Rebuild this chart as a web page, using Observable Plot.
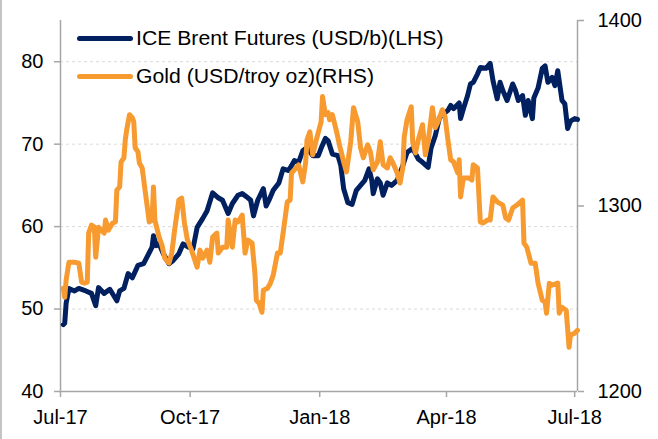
<!DOCTYPE html>
<html>
<head>
<meta charset="utf-8">
<script src="https://cdn.jsdelivr.net/npm/d3@7"></script>
<script src="https://cdn.jsdelivr.net/npm/@observablehq/plot@0.6"></script>
<style>
  html, body { margin: 0; padding: 0; background: #fff; overflow: hidden; }
  #wrap { position: relative; width: 658px; height: 439px; font-family: "Liberation Sans", Arial, sans-serif; }
  #edge { position: absolute; left: 0; top: 0; width: 2px; height: 439px; background: #c4c4c4; }
  .leg { position: absolute; left: 77px; height: 26px; display: flex; align-items: center; font-size: 20px; color: #000; white-space: nowrap; }
  .sw { width: 56px; height: 5px; border-radius: 3px; margin-right: 3px; }
  .leg span.t { display: inline-block; transform: scaleX(1.06); transform-origin: left center; }
</style>
</head>
<body>
<div id="wrap"><div id="edge"></div></div>
<script>
// ---- Data ----
const seriesNames = ["ICE Brent Futures (USD/b)(LHS)", "Gold (USD/troy oz)(RHS)"];
const seriesColors = ["#002060", "#f79a30"];

const brentDates = ["2017-07-03","2017-07-04","2017-07-05","2017-07-07","2017-07-11","2017-07-14","2017-07-19","2017-07-23","2017-07-26","2017-07-28",
"2017-08-01","2017-08-05","2017-08-10","2017-08-12","2017-08-15","2017-08-18","2017-08-21","2017-08-25","2017-08-29","2017-09-01",
"2017-09-04","2017-09-05","2017-09-07","2017-09-09","2017-09-12","2017-09-16","2017-09-19","2017-09-23","2017-09-26","2017-09-30",
"2017-10-03","2017-10-06","2017-10-10","2017-10-13","2017-10-17","2017-10-21","2017-10-24","2017-10-28","2017-10-31","2017-11-04",
"2017-11-07","2017-11-11","2017-11-13","2017-11-15","2017-11-18","2017-11-22","2017-11-24","2017-11-26","2017-11-29","2017-12-03",
"2017-12-06","2017-12-10","2017-12-14","2017-12-17","2017-12-20","2017-12-23","2017-12-27","2017-12-31","2018-01-02","2018-01-05",
"2018-01-07","2018-01-10","2018-01-14","2018-01-16","2018-01-18","2018-01-21","2018-01-24","2018-01-27","2018-01-30","2018-02-02",
"2018-02-05","2018-02-07","2018-02-08","2018-02-11","2018-02-13","2018-02-15","2018-02-18","2018-02-21","2018-02-25","2018-03-01",
"2018-03-04","2018-03-08","2018-03-12","2018-03-15","2018-03-19","2018-03-21","2018-03-24","2018-03-27","2018-03-30","2018-04-02",
"2018-04-04","2018-04-06","2018-04-10","2018-04-11","2018-04-13","2018-04-16","2018-04-18","2018-04-20","2018-04-23","2018-04-25",
"2018-04-29","2018-05-02","2018-05-04","2018-05-07","2018-05-09","2018-05-11","2018-05-14","2018-05-18","2018-05-20","2018-05-22",
"2018-05-25","2018-05-27","2018-05-29","2018-06-01","2018-06-02","2018-06-05","2018-06-08","2018-06-10","2018-06-12","2018-06-15",
"2018-06-17","2018-06-19","2018-06-22","2018-06-24","2018-06-26","2018-06-28","2018-07-01","2018-07-03"];
const brentValues = [48.1,48.3,50.7,52.5,52.2,52.5,52.2,51.9,50.4,52.6,
51.9,52.4,51.0,52.2,52.5,54.3,53.8,55.3,55.5,56.5,
57.5,58.9,57.7,57.9,56.7,55.5,55.9,56.7,57.9,57.5,
57.3,59.9,61.0,61.9,64.1,63.5,63.2,61.6,62.8,63.8,
64.0,63.5,63.2,61.3,63.2,64.6,62.5,63.2,64.4,65.3,
67.0,66.8,68.0,67.8,69.2,69.6,68.6,68.6,69.5,70.7,
70.4,68.8,68.6,67.4,64.6,62.9,62.7,64.4,65.0,65.6,
67.0,65.6,64.0,65.8,65.3,63.8,65.3,65.0,65.6,67.4,
69.0,69.5,68.2,67.8,67.2,69.5,71.0,73.2,73.7,74.1,
74.7,74.3,75.0,73.1,74.3,75.9,77.3,77.5,78.5,79.3,
79.2,79.8,77.7,75.5,77.5,76.5,75.3,77.3,76.5,75.3,
75.9,73.5,75.3,73.1,75.6,76.8,79.2,79.5,77.5,78.1,
77.1,78.9,75.3,74.9,71.9,72.8,73.1,73.0];

const goldDates = ["2017-07-03","2017-07-04","2017-07-05","2017-07-07","2017-07-11","2017-07-14","2017-07-16","2017-07-18","2017-07-20","2017-07-21",
"2017-07-23","2017-07-25","2017-07-26","2017-07-28","2017-08-01","2017-08-02","2017-08-04","2017-08-07","2017-08-09","2017-08-10",
"2017-08-12","2017-08-13","2017-08-15","2017-08-16","2017-08-17","2017-08-19","2017-08-21","2017-08-22","2017-08-23","2017-08-25",
"2017-08-26","2017-08-28","2017-08-30","2017-09-02","2017-09-04","2017-09-05","2017-09-06","2017-09-09","2017-09-11","2017-09-13",
"2017-09-16","2017-09-18","2017-09-20","2017-09-23","2017-09-25","2017-09-27","2017-09-29","2017-10-02","2017-10-06","2017-10-08",
"2017-10-10","2017-10-13","2017-10-15","2017-10-17","2017-10-20","2017-10-21","2017-10-24","2017-10-27","2017-10-28","2017-10-31",
"2017-11-02","2017-11-04","2017-11-07","2017-11-09","2017-11-11","2017-11-14","2017-11-16","2017-11-17","2017-11-19","2017-11-21",
"2017-11-22","2017-11-25","2017-11-27","2017-11-29","2017-12-02","2017-12-04","2017-12-06","2017-12-09","2017-12-11","2017-12-12",
"2017-12-14","2017-12-17","2017-12-20","2017-12-22","2017-12-23","2017-12-25","2017-12-27","2017-12-30","2018-01-02","2018-01-03",
"2018-01-05","2018-01-07","2018-01-08","2018-01-10","2018-01-13","2018-01-15","2018-01-18","2018-01-20","2018-01-23","2018-01-25",
"2018-01-28","2018-01-30","2018-02-01","2018-02-04","2018-02-06","2018-02-08","2018-02-11","2018-02-13","2018-02-15","2018-02-18",
"2018-02-20","2018-02-22","2018-02-25","2018-02-27","2018-03-01","2018-03-02","2018-03-04","2018-03-07","2018-03-08","2018-03-10",
"2018-03-12","2018-03-15","2018-03-17","2018-03-19","2018-03-22","2018-03-24","2018-03-26","2018-03-29","2018-03-31","2018-04-02",
"2018-04-04","2018-04-06","2018-04-09","2018-04-10","2018-04-11","2018-04-13","2018-04-17","2018-04-19","2018-04-20","2018-04-23",
"2018-04-25","2018-04-27","2018-04-30","2018-05-02","2018-05-04","2018-05-07","2018-05-11","2018-05-13","2018-05-15","2018-05-18",
"2018-05-21","2018-05-25","2018-05-26","2018-05-28","2018-05-31","2018-06-03","2018-06-05","2018-06-08","2018-06-10","2018-06-11",
"2018-06-13","2018-06-15","2018-06-19","2018-06-20","2018-06-22","2018-06-25","2018-06-27","2018-06-28","2018-07-01","2018-07-03"];
const goldValues = [1255.7,1250.8,1260.0,1269.7,1269.7,1269.2,1258.9,1258.4,1258.9,1285.4,
1289.7,1288.6,1272.4,1288.6,1285.4,1292.4,1287.0,1290.8,1291.4,1308.6,
1310.3,1323.8,1325.9,1335.7,1341.1,1349.2,1347.6,1345.4,1331.4,1329.2,
1323.2,1320.5,1308.6,1291.4,1292.4,1310.3,1292.4,1283.2,1278.9,1271.9,
1269.2,1274.6,1287.0,1303.2,1304.3,1290.8,1282.0,1276.2,1267.0,1276.2,
1271.9,1276.2,1269.7,1283.2,1285.4,1274.6,1277.8,1277.8,1292.4,1277.8,
1292.4,1291.4,1295.1,1274.6,1281.6,1280.0,1263.8,1249.2,1247.6,1242.7,
1254.6,1255.7,1258.4,1262.7,1274.6,1274.6,1285.4,1302.2,1303.2,1317.8,
1319.5,1322.2,1313.0,1323.2,1335.7,1340.0,1327.6,1336.8,1345.4,1359.0,
1349.2,1350.3,1346.5,1349.2,1340.0,1333.0,1323.8,1318.4,1334.6,1353.0,
1345.4,1331.4,1326.0,1333.0,1329.2,1319.5,1323.8,1334.6,1322.2,1320.5,
1326.0,1323.2,1317.8,1312.4,1320.5,1337.3,1346.5,1353.5,1334.6,1328.6,
1335.7,1343.8,1327.6,1334.6,1353.0,1342.2,1345.4,1351.9,1348.0,1335.7,
1324.9,1323.8,1317.8,1324.9,1304.9,1315.1,1315.1,1314.0,1322.2,1320.5,
1291.4,1290.8,1292.4,1292.4,1304.9,1302.2,1300.5,1293.5,1292.4,1298.9,
1300.5,1303.2,1280.0,1277.8,1269.2,1269.2,1258.4,1249.2,1248.1,1242.2,
1258.4,1257.3,1258.4,1242.2,1245.4,1243.8,1223.8,1230.3,1231.4,1233.0];

const xTickDates = ["2017-07-01","2017-10-01","2018-01-01","2018-04-01","2018-07-01"];
const leftTicks = [40, 50, 60, 70, 80];
const rightTicks = [1200, 1300, 1400];
const leftDomain = [40, 85];
const rightDomain = [1200, 1400];
const xDomain = ["2017-07-01", "2018-07-03"];

// ---- Build ----
const parse = d3.utcParse("%Y-%m-%d");
const brent = brentDates.map((d, i) => ({date: parse(d), value: brentValues[i]}));
const gold = goldDates.map((d, i) => ({date: parse(d), value: goldValues[i]}));
// map right-axis values onto the left-axis scale
const rightToLeft = d3.scaleLinear().domain(rightDomain).range(leftDomain);

const axisColor = "#a6a6a6";
const chart = Plot.plot({
  width: 658,
  height: 439,
  marginLeft: 60,
  marginRight: 81,
  marginTop: 20,
  marginBottom: 48,
  x: {type: "utc", domain: xDomain.map(parse)},
  y: {domain: leftDomain},
  style: {fontFamily: "'Liberation Sans', Arial, sans-serif", fontSize: "20px", color: "#000", background: "transparent", overflow: "visible"},
  marks: [
    Plot.gridY(leftTicks.filter(d => d > leftDomain[0]), {stroke: "#d9d9d9", strokeOpacity: 1, strokeWidth: 1, strokeDasharray: "3,3"}),
    Plot.ruleY([leftDomain[0]], {stroke: axisColor, strokeWidth: 1.5}),
    Plot.ruleX([parse(xDomain[0])], {stroke: axisColor, strokeWidth: 1.5}),
    Plot.ruleX([parse(xDomain[1])], {stroke: axisColor, strokeWidth: 1.5}),
    Plot.axisY(leftTicks, {anchor: "left", tickSize: 6, tickPadding: 11, stroke: axisColor, strokeWidth: 1.5, label: null, tickFormat: d => String(d)}),
    Plot.axisY(rightTicks.map(v => rightToLeft(v)), {anchor: "right", tickSize: 6, tickPadding: 14, stroke: axisColor, strokeWidth: 1.5, label: null,
      tickFormat: d => String(Math.round(rightToLeft.invert(d)))}),
    Plot.axisX(xTickDates.map(parse), {anchor: "bottom", tickSize: 6, tickPadding: 12, stroke: axisColor, strokeWidth: 1.5, label: null,
      tickFormat: d3.utcFormat("%b-%y")}),
    Plot.line(brent, {x: "date", y: "value", stroke: seriesColors[0], strokeWidth: 5, strokeLinejoin: "round", strokeLinecap: "round"}),
    Plot.line(gold, {x: "date", y: d => rightToLeft(d.value), stroke: seriesColors[1], strokeWidth: 5, strokeLinejoin: "round", strokeLinecap: "round"})
  ]
});

const wrap = document.getElementById("wrap");
chart.style.position = "absolute";
chart.style.left = "0px";
chart.style.top = "0px";
wrap.appendChild(chart);

// legend (inside the plot area, top-left)
const legendTops = [25, 63];
seriesNames.forEach((name, i) => {
  const row = document.createElement("div");
  row.className = "leg";
  row.style.top = legendTops[i] + "px";
  const sw = document.createElement("div");
  sw.className = "sw";
  sw.style.background = seriesColors[i];
  const t = document.createElement("span");
  t.className = "t";
  t.textContent = name;
  row.appendChild(sw);
  row.appendChild(t);
  wrap.appendChild(row);
});
</script>
</body>
</html>
